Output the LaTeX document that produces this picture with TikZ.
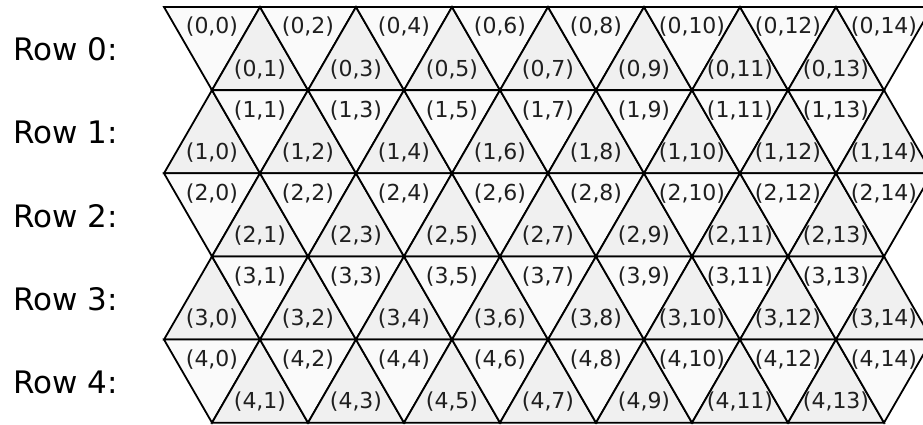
\documentclass[tikz,border=0pt]{standalone}
\usepackage{fontspec}
\setmainfont{DejaVu Sans}
\definecolor{downfill}{HTML}{FAFAFA}
\definecolor{upfill}{HTML}{F0F0F0}
\begin{document}
\begin{tikzpicture}[x=1pt,y=-1pt,
  tri/.style={draw=black, line width=1.8pt, line join=miter},
  dntri/.style={tri, fill=downfill},
  uptri/.style={tri, fill=upfill},
  lab/.style={font=\fontsize{22}{25}\selectfont, inner sep=0pt, text=black!88},
  rowlab/.style={font=\fontsize{31}{34}\selectfont, anchor=west, inner sep=0pt}]
\useasboundingbox (0,0) rectangle (923,424);
\begin{scope}
\clip (0,0) rectangle (923,424);
\foreach \r in {0,...,4} {
  \foreach \c in {0,...,14} {
    \pgfmathsetmacro\xa{164+48*\c}
    \pgfmathsetmacro\yt{7+83.14*\r}
    \pgfmathsetmacro\yb{\yt+83.14}
    \pgfmathtruncatemacro\parity{mod(\r+\c,2)}
    \ifnum\parity=0
      \filldraw[dntri] (\xa,\yt) -- (\xa+96,\yt) -- (\xa+48,\yb) -- cycle;
    \else
      \filldraw[uptri] (\xa,\yb) -- (\xa+96,\yb) -- (\xa+48,\yt) -- cycle;
    \fi
  }
}
\foreach \r in {0,...,4} {
  \foreach \c in {0,...,14} {
    \pgfmathsetmacro\xa{164+48*\c}
    \pgfmathsetmacro\yt{7+83.14*\r}
    \pgfmathsetmacro\yb{\yt+83.14}
    \pgfmathtruncatemacro\parity{mod(\r+\c,2)}
    \ifnum\parity=0
      \node[lab] (t-\r-\c) at (\xa+48,\yt+20) {(\r,\c)};
    \else
      \node[lab] (t-\r-\c) at (\xa+48,\yb-21) {(\r,\c)};
    \fi
  }
}
\end{scope}
\foreach \r in {0,...,4} {
  \pgfmathsetmacro\ym{7+42.5+83.14*\r}
  \node[rowlab] (row-\r) at (13,\ym) {Row \r:};
}
\end{tikzpicture}
\end{document}
